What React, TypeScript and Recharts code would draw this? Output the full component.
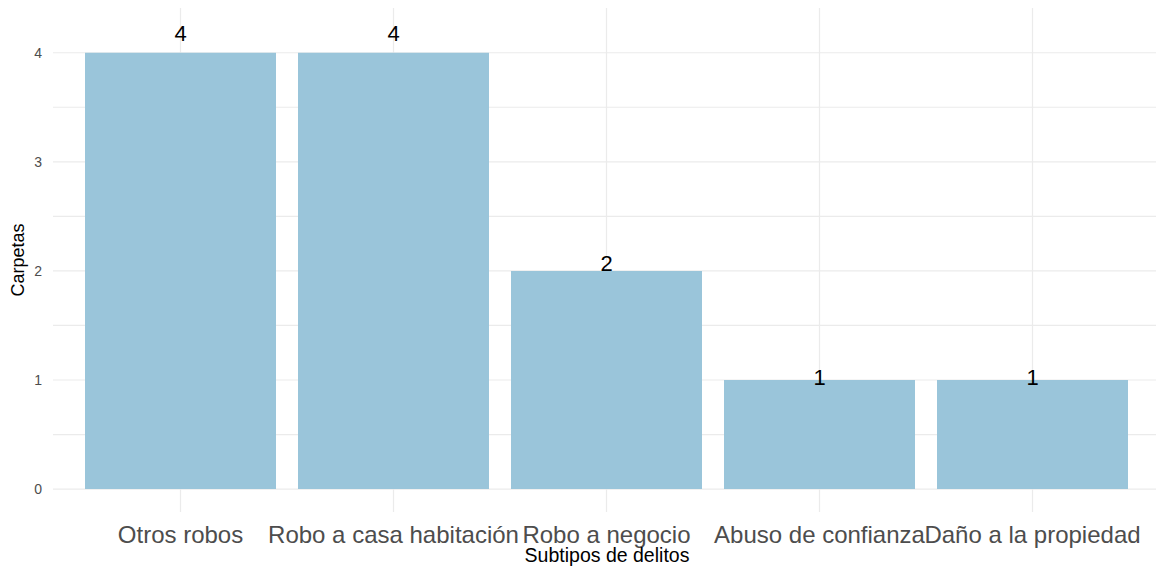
import { Bar, BarChart, CartesianGrid, LabelList, XAxis, YAxis } from "recharts";

const categories = [
	"Otros robos",
	"Robo a casa habitación",
	"Robo a negocio",
	"Abuso de confianza",
	"Daño a la propiedad",
];
const carpetas = [4, 4, 2, 1, 1];
const yTicks = [0, 0.5, 1, 1.5, 2, 2.5, 3, 3.5, 4];

const data = categories.map((name, i) => ({ name, carpetas: carpetas[i] }));

const FONT = '"Liberation Sans", Arial, sans-serif';

// ggplot pone la etiqueta un 5% por encima del valor
const renderValue = (props: any) => {
	const { x, y, width, height, value } = props;
	return (
		<text
			x={x + width / 2}
			y={y - height * 0.05}
			dy={3}
			textAnchor="middle"
			dominantBaseline="central"
			fontSize={22}
			fill="#000000"
			fontFamily={FONT}
		>
			{value}
		</text>
	);
};

export default function App() {
	return (
		<div
			style={{
				position: "absolute",
				left: 0,
				top: 0,
				width: 1156,
				height: 577,
				overflow: "hidden",
				background: "#ffffff",
				fontFamily: FONT,
			}}
		>
			<BarChart
				width={1161}
				height={577}
				data={data}
				margin={{ top: 8, right: 0, bottom: 0, left: 0 }}
			>
				{/* syncWithTicks: solo líneas en los ticks, sin marco del panel */}
				<CartesianGrid stroke="#EBEBEB" strokeWidth={1.2} syncWithTicks />
				<XAxis
					dataKey="name"
					height={65}
					padding={{ left: 21, right: 22 }}
					axisLine={false}
					tickLine={false}
					tickSize={0}
					tickMargin={14}
					interval={0}
					tick={{ fontSize: 24, fill: "#4D4D4D", fontFamily: FONT }}
					label={{
						value: "Subtipos de delitos",
						position: "insideBottom",
						offset: 15,
						style: { fontSize: 19.5, fill: "#000000", fontFamily: FONT },
					}}
				/>
				<YAxis
					width={53}
					domain={[-0.21, 4.41]}
					allowDataOverflow
					ticks={yTicks}
					interval={0}
					axisLine={false}
					tickLine={false}
					tickSize={0}
					tickMargin={11}
					tickFormatter={(v: number) => (Number.isInteger(v) ? String(v) : "")}
					tick={{ fontSize: 14, fill: "#4D4D4D", fontFamily: FONT }}
					label={{
						value: "Carpetas",
						angle: -90,
						position: "insideLeft",
						offset: 18,
						style: { fontSize: 18, fill: "#000000", textAnchor: "middle", fontFamily: FONT },
					}}
				/>
				<Bar dataKey="carpetas" fill="#9AC5DA" barSize={191} isAnimationActive={false}>
					<LabelList dataKey="carpetas" content={renderValue} />
				</Bar>
			</BarChart>
		</div>
	);
}
